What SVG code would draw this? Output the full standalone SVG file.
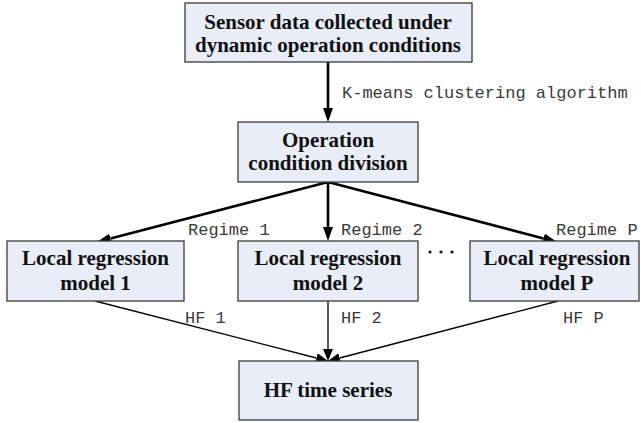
<svg xmlns="http://www.w3.org/2000/svg" width="641" height="423" viewBox="0 0 641 423">
<style>
.box{fill:#e8edf7;stroke:#3a3a3a;stroke-width:1.3}
.bt{font-family:"Liberation Serif","Times New Roman",serif;font-weight:bold;font-size:21px;fill:#111;text-anchor:middle}
.lb{font-family:"Liberation Mono","Courier New",monospace;font-size:17px;fill:#3a3a3a}
.thick{stroke:#000;stroke-width:2.6;fill:none}
.thin{stroke:#000;stroke-width:1.3;fill:none}
</style>
<defs>
<marker id="ah" markerUnits="userSpaceOnUse" markerWidth="14" markerHeight="10" refX="0" refY="5" orient="auto" viewBox="0 0 14 10">
<path d="M0,0 L14,5 L0,10 z" fill="#000"/>
</marker>
<marker id="ahs" markerUnits="userSpaceOnUse" markerWidth="12" markerHeight="10" refX="0" refY="5" orient="auto" viewBox="0 0 12 10">
<path d="M0,0 L12,5 L0,10 z" fill="#000"/>
</marker>
</defs>
<g id="connectors">
<line class="thick" x1="328" y1="62" x2="328" y2="108" marker-end="url(#ah)"/>
<line class="thick" x1="328" y1="182" x2="110.5" y2="238.5" marker-end="url(#ah)"/>
<line class="thick" x1="328" y1="182" x2="328" y2="227" marker-end="url(#ah)"/>
<line class="thick" x1="328" y1="182" x2="543.5" y2="238.5" marker-end="url(#ah)"/>
<line class="thin" x1="95" y1="301" x2="316.4" y2="358" marker-end="url(#ahs)"/>
<line class="thin" x1="328" y1="301" x2="328" y2="349" marker-end="url(#ahs)"/>
<line class="thin" x1="558" y1="301" x2="339.6" y2="358" marker-end="url(#ahs)"/>
<text class="lb" x="342" y="98">K-means clustering algorithm</text>
<text class="lb" x="188" y="235">Regime 1</text>
<text class="lb" x="341" y="235">Regime 2</text>
<text class="lb" x="556" y="235">Regime P</text>
<text class="lb" x="185" y="323">HF 1</text>
<text class="lb" x="341" y="323">HF 2</text>
<text class="lb" x="563" y="323">HF P</text>
</g>
<g id="sensor">
<rect class="box" x="185" y="3" width="287" height="59"/>
<text class="bt" x="328" y="29">Sensor data collected under</text>
<text class="bt" x="328" y="52">dynamic operation conditions</text>
</g>
<g id="division">
<rect class="box" x="238" y="122" width="180" height="60"/>
<text class="bt" x="328" y="147">Operation</text>
<text class="bt" x="328" y="170">condition division</text>
</g>
<g id="model1">
<rect class="box" x="7" y="241" width="177" height="60"/>
<text class="bt" x="95.5" y="265">Local regression</text>
<text class="bt" x="95.5" y="290">model 1</text>
</g>
<g id="model2">
<rect class="box" x="238" y="241" width="180" height="60"/>
<text class="bt" x="328" y="265">Local regression</text>
<text class="bt" x="328" y="290">model 2</text>
</g>
<g id="dots">
<circle cx="430" cy="252" r="1.6" fill="#111"/>
<circle cx="441" cy="252" r="1.6" fill="#111"/>
<circle cx="452" cy="252" r="1.6" fill="#111"/>
</g>
<g id="modelP">
<rect class="box" x="470" y="241" width="169" height="60"/>
<text class="bt" x="557" y="265">Local regression</text>
<text class="bt" x="557" y="290">model P</text>
</g>
<g id="hf">
<rect class="box" x="239" y="361" width="179" height="59"/>
<text class="bt" x="328" y="397">HF time series</text>
</g>
</svg>
